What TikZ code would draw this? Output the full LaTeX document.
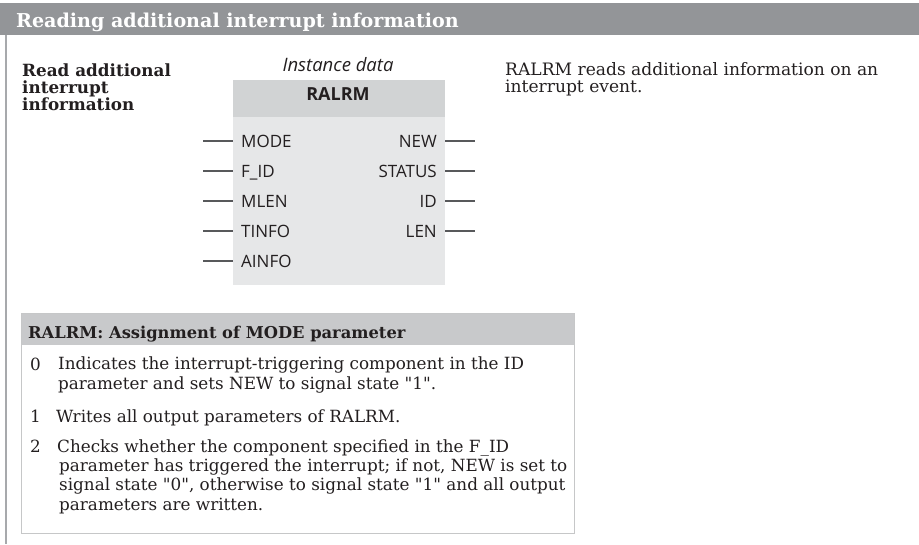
\documentclass[tikz,border=0pt]{standalone}
\usepackage{fontspec}
\setmainfont{DejaVu Serif}[Ligatures=TeXOff]
\setsansfont{Open Sans}
\definecolor{titlegray}{HTML}{939598}
\definecolor{bordergray}{HTML}{A7A9AC}
\definecolor{blockhead}{HTML}{D1D3D4}
\definecolor{blockbody}{HTML}{E6E7E8}
\definecolor{pingray}{HTML}{58595B}
\definecolor{tablehead}{HTML}{C8C9CB}
\definecolor{tableline}{HTML}{C6C7C8}
\definecolor{textdark}{HTML}{231F20}
\begin{document}
\begin{tikzpicture}[x=1pt,y=-1pt,
  pinline/.style={draw=pingray, line width=1.3pt},
  pinlabel/.style={font=\sffamily\fontsize{17}{20}\selectfont, text=textdark, inner sep=0},
  bodytext/.style={font=\fontsize{16.8}{19.3}\selectfont, text=textdark, inner sep=0, align=left},
  boldtext/.style={font=\bfseries\fontsize{16.8}{17}\selectfont, text=textdark, inner sep=0, align=left}]
\useasboundingbox (0,0) rectangle (919,544);
% title bar
\fill[titlegray] (0,3) rectangle (919,35);
\node[anchor=base west, inner sep=0, text=white, font=\bfseries\fontsize{19.1}{21}\selectfont] (title) at (16,27) {Reading additional interrupt information};
\draw[bordergray, line width=1.2pt] (6,35) -- (6,544);
% left label (anchor = baseline of last line)
\node[boldtext, anchor=base west] (label) at (22,110) {Read additional\\interrupt\\information};
% description
\node[bodytext, font=\fontsize{17.1}{17}\selectfont, anchor=base west] (desc) at (505,92) {RALRM reads additional information on an\\interrupt event.};
% block
\node[anchor=base, inner sep=0, text=textdark, font=\sffamily\itshape\fontsize{18.5}{20}\selectfont] (inst) at (338,71) {Instance data};
\node[anchor=north west, fill=blockhead, minimum width=212pt, minimum height=37pt, inner sep=0] (head) at (233,80) {};
\node[anchor=north west, fill=blockbody, minimum width=212pt, minimum height=168pt, inner sep=0] (body) at (233,117) {};
\node[anchor=base, inner sep=0, text=textdark, font=\sffamily\bfseries\fontsize{18}{20}\selectfont] (fbname) at (338,100) {RALRM};
% inputs
\foreach \lab/\nm/\yy in {MODE/mode/141, F\_ID/fid/171, MLEN/mlen/201, TINFO/tinfo/231, AINFO/ainfo/261}{
  \coordinate (\nm-end) at (203,\yy);
  \coordinate (\nm-pin) at (233,\yy);
  \draw[pinline] (\nm-end) -- (\nm-pin);
  \node[pinlabel, anchor=base west] (\nm-lab) at (241,\yy+6.5) {\lab};
}
% outputs
\foreach \lab/\nm/\yy in {NEW/new/141, STATUS/status/171, ID/id/201, LEN/len/231}{
  \coordinate (\nm-pin) at (445,\yy);
  \coordinate (\nm-end) at (475,\yy);
  \draw[pinline] (\nm-pin) -- (\nm-end);
  \node[pinlabel, anchor=base east] (\nm-lab) at (437,\yy+6.5) {\lab};
}
% table
\node[anchor=north west, fill=white, minimum width=553pt, minimum height=220pt, inner sep=0] (tbox) at (21,313) {};
\fill[tablehead] (21,313) rectangle (574,345);
\draw[tableline, line width=1pt] (tbox.north west) rectangle (tbox.south east);
\node[anchor=base west, inner sep=0, text=textdark, font=\bfseries\fontsize{16.3}{18}\selectfont] (thead) at (28,338) {RALRM: Assignment of MODE parameter};
\node[bodytext, anchor=base west] (n0) at (30,370) {0};
\node[bodytext, anchor=base west] (t0) at (58,389) {Indicates the interrupt-triggering component in the ID\\parameter and sets NEW to signal state "1".};
\node[bodytext, anchor=base west] (n1) at (30,422) {1};
\node[bodytext, anchor=base west] (t1) at (56,422) {Writes all output parameters of RALRM.};
\node[bodytext, anchor=base west] (n2) at (30,452) {2};
\node[bodytext, anchor=base west] (t2) at (59,510) {\hspace*{-2pt}Checks whether the component specified in the F\_ID\\parameter has triggered the interrupt; if not, NEW is set to\\signal state "0", otherwise to signal state "1" and all output\\parameters are written.};
\end{tikzpicture}
\end{document}
